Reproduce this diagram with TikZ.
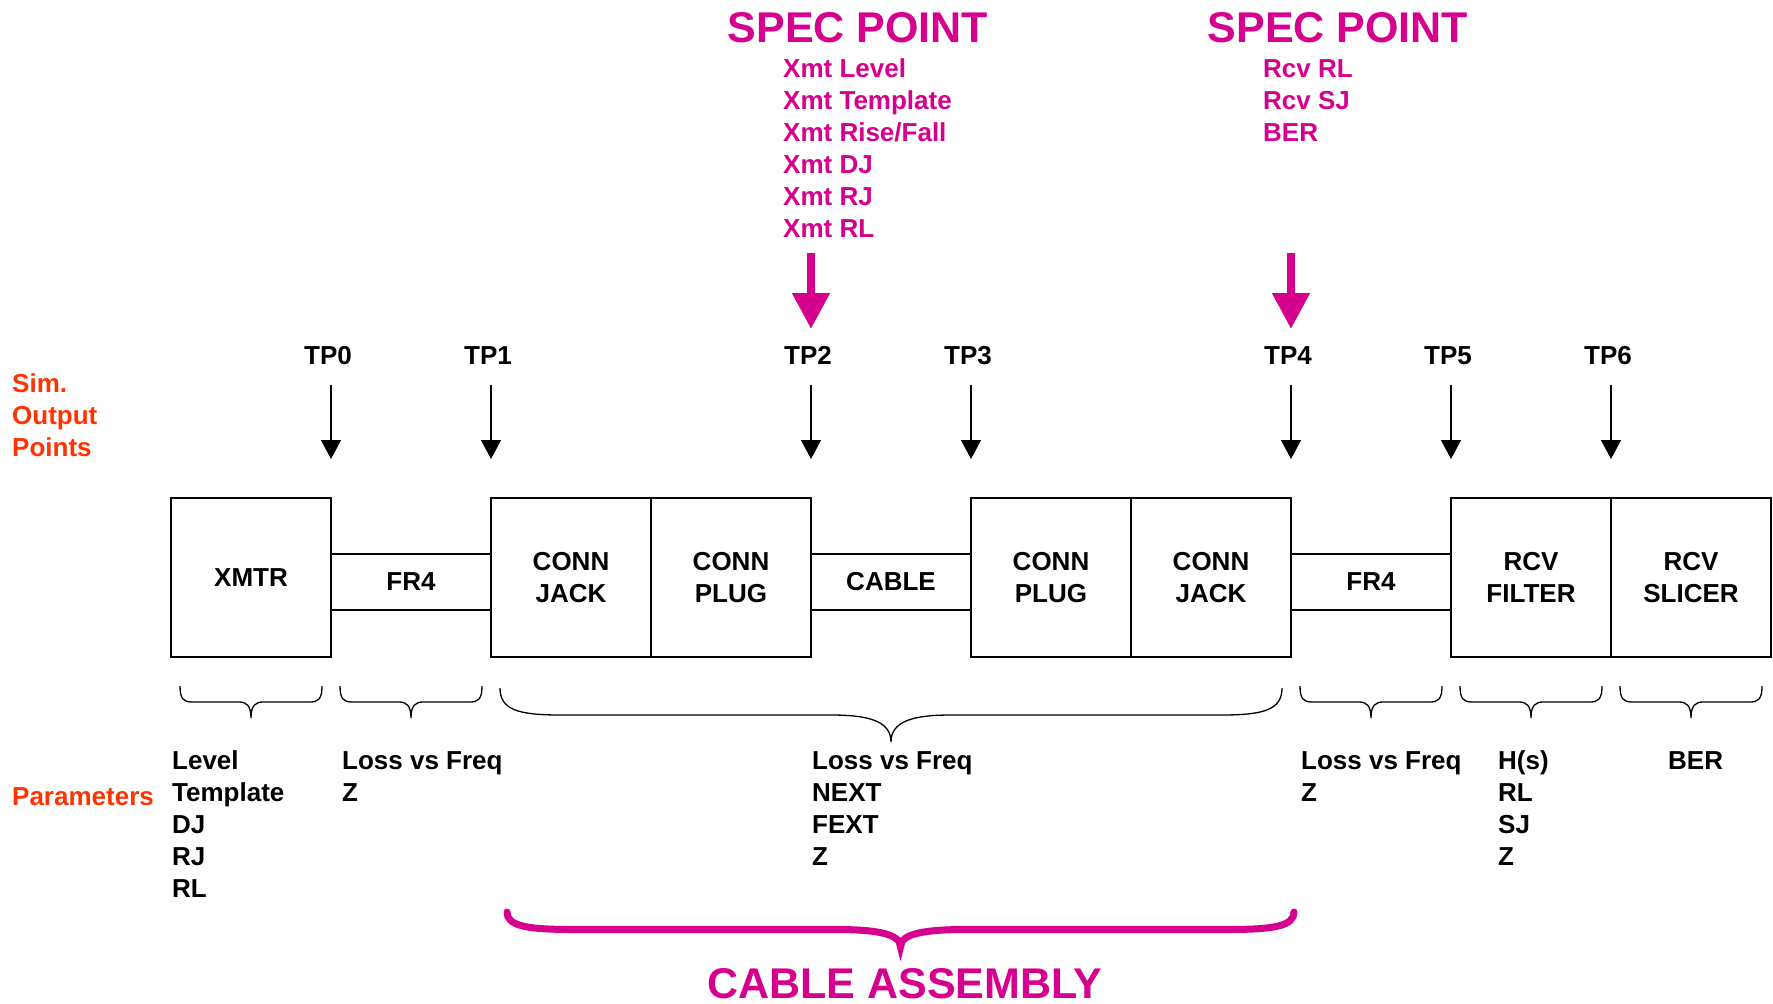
\documentclass[tikz,border=0pt]{standalone}
\usepackage{fontspec}
\setmainfont{Liberation Sans}
\usetikzlibrary{arrows.meta}
\definecolor{spec}{RGB}{214,0,143}
\definecolor{simred}{RGB}{255,51,0}
\newcommand\curlybrace[6]{%
 \draw[#1] (#2,#4) .. controls (#2,{#4+0.4*#5}) and ({#2+0.3*#6},{#4+0.5*#5}) .. ({#2+#6},{#4+0.5*#5})
 -- ({(#2+#3)/2-#6},{#4+0.5*#5}) .. controls ({(#2+#3)/2-0.4*#6},{#4+0.5*#5}) and ({(#2+#3)/2},{#4+0.6*#5}) .. ({(#2+#3)/2},{#4+#5})
 .. controls ({(#2+#3)/2},{#4+0.6*#5}) and ({(#2+#3)/2+0.4*#6},{#4+0.5*#5}) .. ({(#2+#3)/2+#6},{#4+0.5*#5})
 -- ({#3-#6},{#4+0.5*#5}) .. controls ({#3-0.3*#6},{#4+0.5*#5}) and (#3,{#4+0.4*#5}) .. (#3,#4);}
\newcommand\linestack[5]{%
 \foreach \t [count=\i from 0] in {#5}
   \node[#4, anchor=base west] (#1\i) at (#2,{#3+32*\i}) {\t};}
\begin{document}
\begin{tikzpicture}[x=1pt,y=-1pt,
  lbl/.style={font=\fontsize{26}{32}\selectfont\bfseries, inner sep=0pt},
  mg/.style={lbl, text=spec},
  rd/.style={lbl, text=simred},
  big/.style={font=\fontsize{43}{50}\selectfont\bfseries, inner sep=0pt, text=spec},
  tall/.style={draw, line width=1.5pt, minimum width=160pt, minimum height=159pt, lbl, align=center},
  thinbox/.style={draw, line width=1.5pt, minimum width=160pt, minimum height=56pt, lbl, align=center},
  tparrow/.style={line width=1.3pt, -{Triangle[width=20pt,length=19pt]}},
  specarrow/.style={draw=spec, line width=8pt, -{Triangle[width=36pt,length=36pt]}},
  brc/.style={line width=1.3pt},
  mbrc/.style={draw=spec, line width=7pt, line cap=round}]
\useasboundingbox (0,0) rectangle (1773,1004);

% spec points
\node[big, anchor=base] (sp1) at (858,42) {SPEC POINT};
\node[big, anchor=base] (sp2) at (1338,42) {SPEC POINT};
\linestack{xm}{783}{77}{mg}{Xmt Level,Xmt Template,{Xmt Rise/Fall},Xmt DJ,Xmt RJ,Xmt RL}
\linestack{rc}{1263}{77}{mg}{Rcv RL,Rcv SJ,BER}
\coordinate (s1a) at (811,253); \coordinate (s1b) at (811,329);
\coordinate (s2a) at (1291,253); \coordinate (s2b) at (1291,329);
\draw[specarrow] (s1a) -- (s1b);
\draw[specarrow] (s2a) -- (s2b);

% sim output points
\linestack{sim}{12}{392}{rd}{Sim.,Output,Points}

% test points
\foreach \x [count=\k from 0] in {331,491,811,971,1291,1451,1611} {
  \node[lbl, anchor=base] (tp\k) at ({\x-3},364) {TP\k};
  \coordinate (ta\k) at (\x,385);
  \coordinate (tb\k) at (\x,459);
  \draw[tparrow] (ta\k) -- (tb\k);
}

% blocks
\node[tall] (xmtr) at (251,577.5) {XMTR};
\node[thinbox] (fr4a) at (411,582) {FR4};
\node[tall] (cj1) at (571,577.5) {CONN\\JACK};
\node[tall] (cp1) at (731,577.5) {CONN\\PLUG};
\node[thinbox] (cable) at (891,582) {CABLE};
\node[tall] (cp2) at (1051,577.5) {CONN\\PLUG};
\node[tall] (cj2) at (1211,577.5) {CONN\\JACK};
\node[thinbox] (fr4b) at (1371,582) {FR4};
\node[tall] (rf) at (1531,577.5) {RCV\\FILTER};
\node[tall] (rs) at (1691,577.5) {RCV\\SLICER};

% braces
\curlybrace{brc}{180}{322}{686}{32}{12}
\curlybrace{brc}{340}{482}{686}{32}{12}
\curlybrace{brc}{500}{1282}{688}{54}{60}
\curlybrace{brc}{1300}{1442}{686}{32}{12}
\curlybrace{brc}{1460}{1602}{686}{32}{12}
\curlybrace{brc}{1620}{1762}{686}{32}{12}

% parameters
\node[rd, anchor=base west] (par) at (12,805) {Parameters};
\linestack{pa}{172}{769}{lbl}{Level,Template,DJ,RJ,RL}
\linestack{pb}{342}{769}{lbl}{Loss vs Freq,Z}
\linestack{pc}{812}{769}{lbl}{Loss vs Freq,NEXT,FEXT,Z}
\linestack{pd}{1301}{769}{lbl}{Loss vs Freq,Z}
\linestack{pe}{1498}{769}{lbl}{H(s),RL,SJ,Z}
\linestack{pf}{1668}{769}{lbl}{BER}

% cable assembly
\curlybrace{mbrc}{507}{1294}{912}{35}{66}
\node[big, anchor=base] (ca) at (905,998) {CABLE ASSEMBLY};
\end{tikzpicture}
\end{document}
